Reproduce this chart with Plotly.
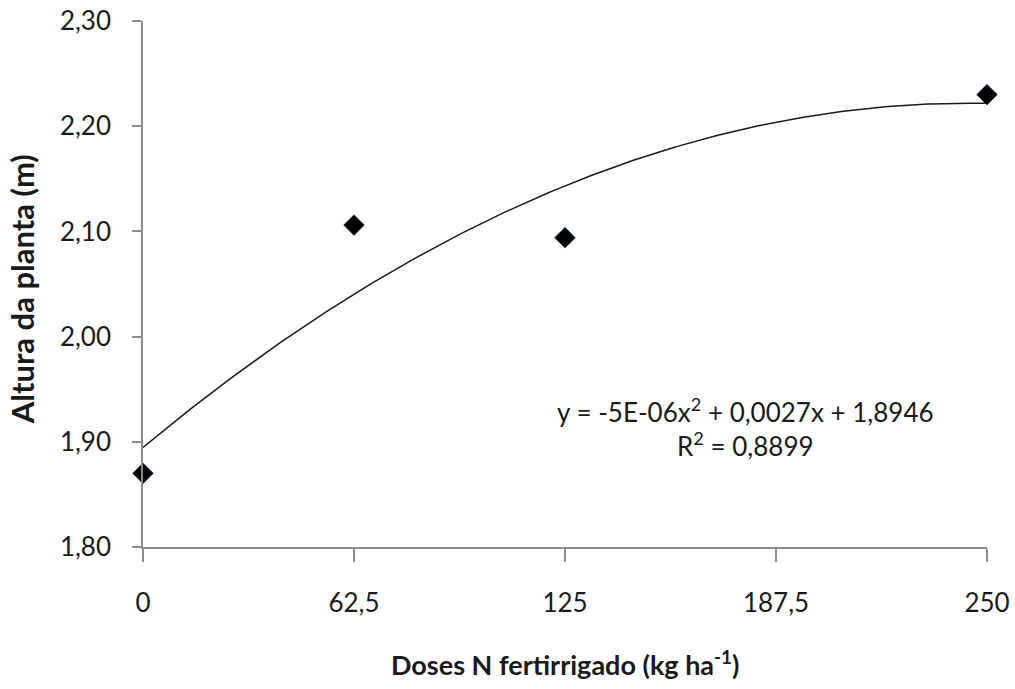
import numpy as np
import plotly.graph_objects as go

# Data
doses = [0, 62.5, 125, 250]
altura = [1.870, 2.106, 2.094, 2.230]
x_ticks = [0, 62.5, 125, 187.5, 250]
x_ticktext = ["0", "62,5", "125", "187,5", "250"]
y_ticks = [1.80, 1.90, 2.00, 2.10, 2.20, 2.30]
y_ticktext = ["1,80", "1,90", "2,00", "2,10", "2,20", "2,30"]
equation = "y = -5E-06x<sup>2</sup> + 0,0027x + 1,8946<br>R<sup>2</sup> = 0,8899"

coef = np.polyfit(doses, altura, 2)
xs = np.linspace(0, 250, 300)
ys = np.polyval(coef, xs)

FONT = "Lato"

fig = go.Figure()
fig.add_trace(go.Scatter(x=xs, y=ys, mode="lines",
                         line=dict(color="#1a1a1a", width=1.5),
                         hoverinfo="skip", showlegend=False))
fig.add_trace(go.Scatter(x=doses, y=altura, mode="markers",
                         marker=dict(symbol="diamond", size=16, color="black",
                                     line=dict(color="#1f3f6e", width=0.6)),
                         cliponaxis=False, showlegend=False))

fig.update_layout(
    width=1015, height=689,
    margin=dict(l=143, r=28, t=21, b=142),
    paper_bgcolor="white", plot_bgcolor="white",
    font=dict(family=FONT, size=26, color="#1a1a1a"),
    showlegend=False,
)
fig.update_xaxes(range=[0, 250], tickvals=x_ticks, ticktext=x_ticktext,
                 showgrid=False, zeroline=False, showline=True, automargin=False,
                 linecolor="#8c8c8c", linewidth=1.5,
                 ticks="outside", ticklen=13, tickwidth=1.5, tickcolor="#8c8c8c",
                 ticklabelstandoff=19,
                 tickfont=dict(family=FONT, size=26, color="#1a1a1a"))
fig.update_yaxes(range=[1.80, 2.30], tickvals=y_ticks, ticktext=y_ticktext,
                 showgrid=False, zeroline=False, showline=True, automargin=False,
                 linecolor="#8c8c8c", linewidth=1.5,
                 ticks="outside", ticklen=9, tickwidth=1.5, tickcolor="#8c8c8c",
                 ticklabelstandoff=16,
                 tickfont=dict(family=FONT, size=26, color="#1a1a1a"))

fig.add_annotation(text="<b>Altura da planta (m)</b>", xref="paper", yref="paper",
                   x=0, y=0.49, xanchor="center", yanchor="middle", xshift=-121,
                   textangle=-90, showarrow=False,
                   font=dict(family=FONT, size=31, color="#1a1a1a"))
fig.add_annotation(text="<b>Doses N fertirrigado (kg ha<sup>-1</sup>)</b>",
                   xref="paper", yref="paper", x=0.5, y=0, xanchor="center",
                   yanchor="middle", yshift=-116, showarrow=False,
                   font=dict(family=FONT, size=27, color="#1a1a1a"))
fig.add_annotation(text=equation, xref="x", yref="y", x=178.6, y=1.914,
                   xanchor="center", yanchor="middle", showarrow=False, align="center",
                   font=dict(family=FONT, size=26, color="#1a1a1a"))

fig.write_html("out.html", config={"displayModeBar": False},
               post_script="document.body.style.margin='0px';document.body.style.overflow='hidden';")
